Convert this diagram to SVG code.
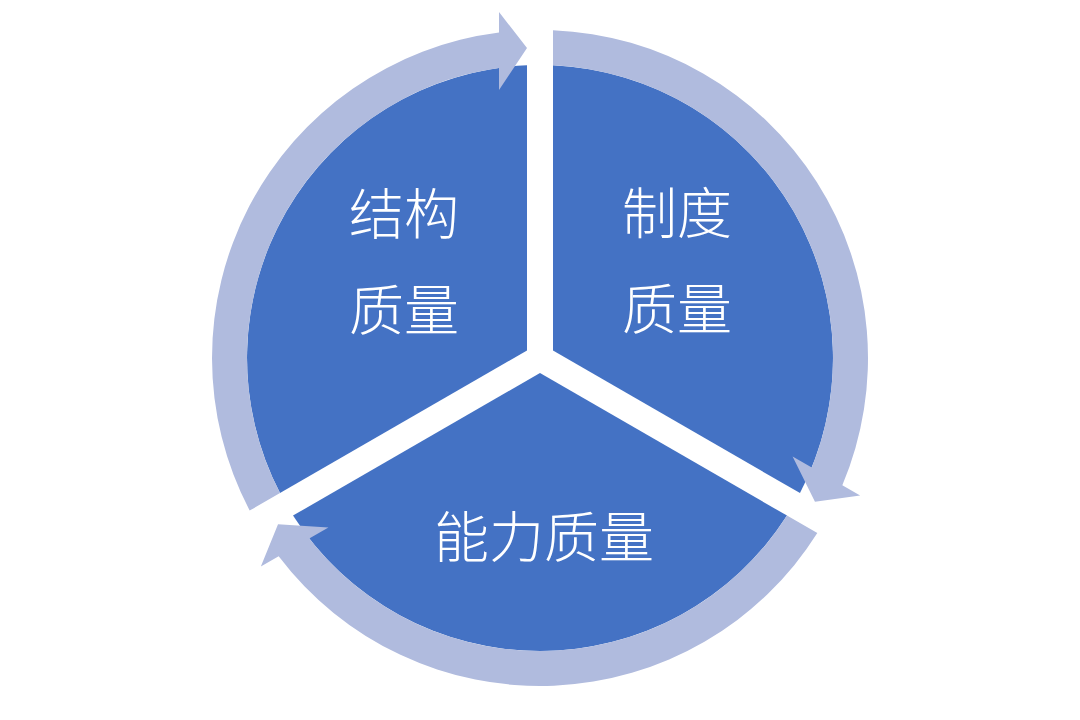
<svg xmlns="http://www.w3.org/2000/svg" width="1080" height="720" viewBox="0 0 1080 720">
  <style>
    .slice { fill: #4472C4; }
    .ring { fill: #B0BBDE; }
    .lbl { fill: #FFFFFF; font-family: "Noto Sans CJK SC", "Noto Sans", sans-serif; font-size: 55px; font-weight: 300; text-anchor: middle; }
  </style>
  <rect width="1080" height="720" fill="#FFFFFF"/>
  <g id="node-structure">
    <path class="slice" d="M 527 350.5 L 280.01 493.09 A 293 293 0 0 1 527 65.29 Z"/>
    <text class="lbl" x="404" y="234">结构</text>
    <text class="lbl" x="404" y="330">质量</text>
  </g>
  <g id="node-system">
    <path class="slice" d="M 553 350.5 L 553 65.29 A 293 293 0 0 1 799.99 493.1 Z"/>
    <text class="lbl" x="677" y="233">制度</text>
    <text class="lbl" x="677" y="329">质量</text>
  </g>
  <g id="node-capability">
    <path class="slice" d="M 540 373.01 L 786.99 515.61 A 293 293 0 0 1 293.01 515.6 Z"/>
    <text class="lbl" x="544" y="557">能力质量</text>
  </g>
  <g id="connectors">
    <path id="arrow-structure-system" class="ring" d="M 249.68 510.61 A 328 328 0 0 1 499 32.57 L 499 12 L 527 48 L 499 90 L 499 67.88 A 293 293 0 0 0 280.01 493.1 Z"/>
    <path id="arrow-system-capability" class="ring" transform="rotate(120 540 358)" d="M 249.68 510.61 A 328 328 0 0 1 499 32.57 L 499 12 L 527 48 L 499 90 L 499 67.88 A 293 293 0 0 0 280.01 493.1 Z"/>
    <path id="arrow-capability-structure" class="ring" transform="rotate(240 540 358)" d="M 249.68 510.61 A 328 328 0 0 1 499 32.57 L 499 12 L 527 48 L 499 90 L 499 67.88 A 293 293 0 0 0 280.01 493.1 Z"/>
  </g>
</svg>
